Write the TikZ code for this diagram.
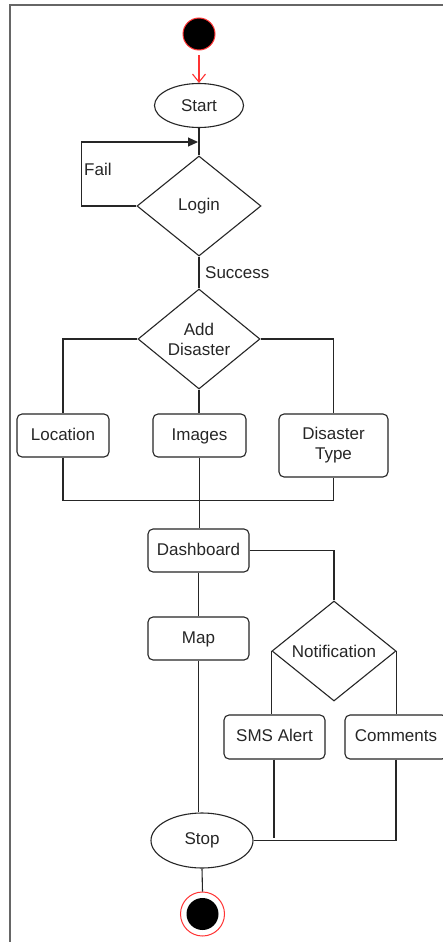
\documentclass[tikz,border=0pt]{standalone}
\usepackage{fontspec}
\setmainfont{Liberation Sans}
\usetikzlibrary{shapes.geometric,arrows.meta}
\definecolor{ln}{HTML}{262626}
\definecolor{redc}{HTML}{FF3333}
\begin{document}
\begin{tikzpicture}[x=1pt,y=-1pt,
  every node/.style={font=\fontsize{17}{20}\selectfont, text=ln},
  conn/.style={draw=ln, line width=1.1pt},
  box/.style={draw=ln, line width=1.1pt, rounded corners=5pt, inner sep=0, align=center, text height=12.5pt, text depth=3.5pt},
  dec/.style={diamond, draw=ln, line width=1.1pt, inner sep=0, minimum width=124, minimum height=100, align=center},
  oval/.style={ellipse, draw=ln, line width=1.1pt, inner sep=0},
  lbl/.style={anchor=west, inner sep=0}]
\useasboundingbox (0,0) rectangle (442,942);
\fill[white] (0,0) rectangle (442,942);
\draw[gray!80!black, line width=1.5pt] (443,5) -- (10,5) -- (10,943);

% nodes
\node[circle, fill=black, draw=redc, line width=1pt, minimum size=32, inner sep=0] (init) at (199,34) {};
\node[oval, minimum width=89, minimum height=44] (start) at (199,105.5) {Start};
\node[dec] (login) at (199,206) {Login};
\node[dec, minimum width=122] (add) at (199,339) {Add\\Disaster};
\node[box, minimum width=92, minimum height=43] (loc) at (63,435.5) {Location};
\node[box, minimum width=93, minimum height=43] (img) at (199.5,435.5) {Images};
\node[box, minimum width=109, minimum height=63, text height=, text depth=] (dtype) at (333.5,445.5) {Disaster\\Type};
\node[box, minimum width=101, minimum height=43] (dash) at (198.5,550.5) {Dashboard};
\node[box, minimum width=101, minimum height=43] (map) at (198.5,638.5) {Map};
\node[dec] (notif) at (334,651) {Notification};
\node[box, minimum width=101, minimum height=44] (sms) at (274.5,737) {SMS Alert};
\node[box, minimum width=102, minimum height=44] (com) at (396,737) {Comments};
\node[oval, minimum width=102, minimum height=55] (stop) at (202,840.5) {Stop};
\node[circle, fill=white, draw=redc, line width=1pt, minimum size=44, inner sep=0] (endc) at (202.5,914) {};
\fill[black] (endc.center) circle (16);

\node[lbl] (fail) at (84,169) {Fail};
\node[lbl] (succ) at (205,273) {Success};
\coordinate (failend) at (198,142);

% connectors
\draw[redc, line width=1.1pt, -{Straight Barb[length=8pt,width=13pt]}, shorten <=5pt] (init) -- (start.north);
\draw[conn] (start.south) -- (login.north);
\draw[conn, -{Triangle[length=10pt,width=9pt]}] (login.west) -- ++(-55,0) |- (failend);
\draw[conn] (login.south) -- (add.north);
\draw[conn] (add.west) -| (loc.north);
\draw[conn] (add.east) -| (dtype.north);
\draw[conn] (add.south) -- (add.south |- img.north);
\draw[conn] (loc.south) -- ++(0,43) -| (dtype.south);
\draw[conn] (img.south) -- (img.south |- dash.north);
\draw[conn] (dash.south) -- (map.north);
\draw[conn] (map.south) -- (map.south |- stop.north);
\draw[conn] (dash.east) -| (notif.north);
\draw[conn] (notif.west) -- (notif.west |- sms.north);
\draw[conn] (notif.east) -- (notif.east |- com.north);
\draw[conn] (sms.south -| 274,0) -- ++(0,78);
\draw[conn] (com.south) |- (stop.east);
\draw[conn] (stop.south) -- (endc.north);
\end{tikzpicture}
\end{document}
